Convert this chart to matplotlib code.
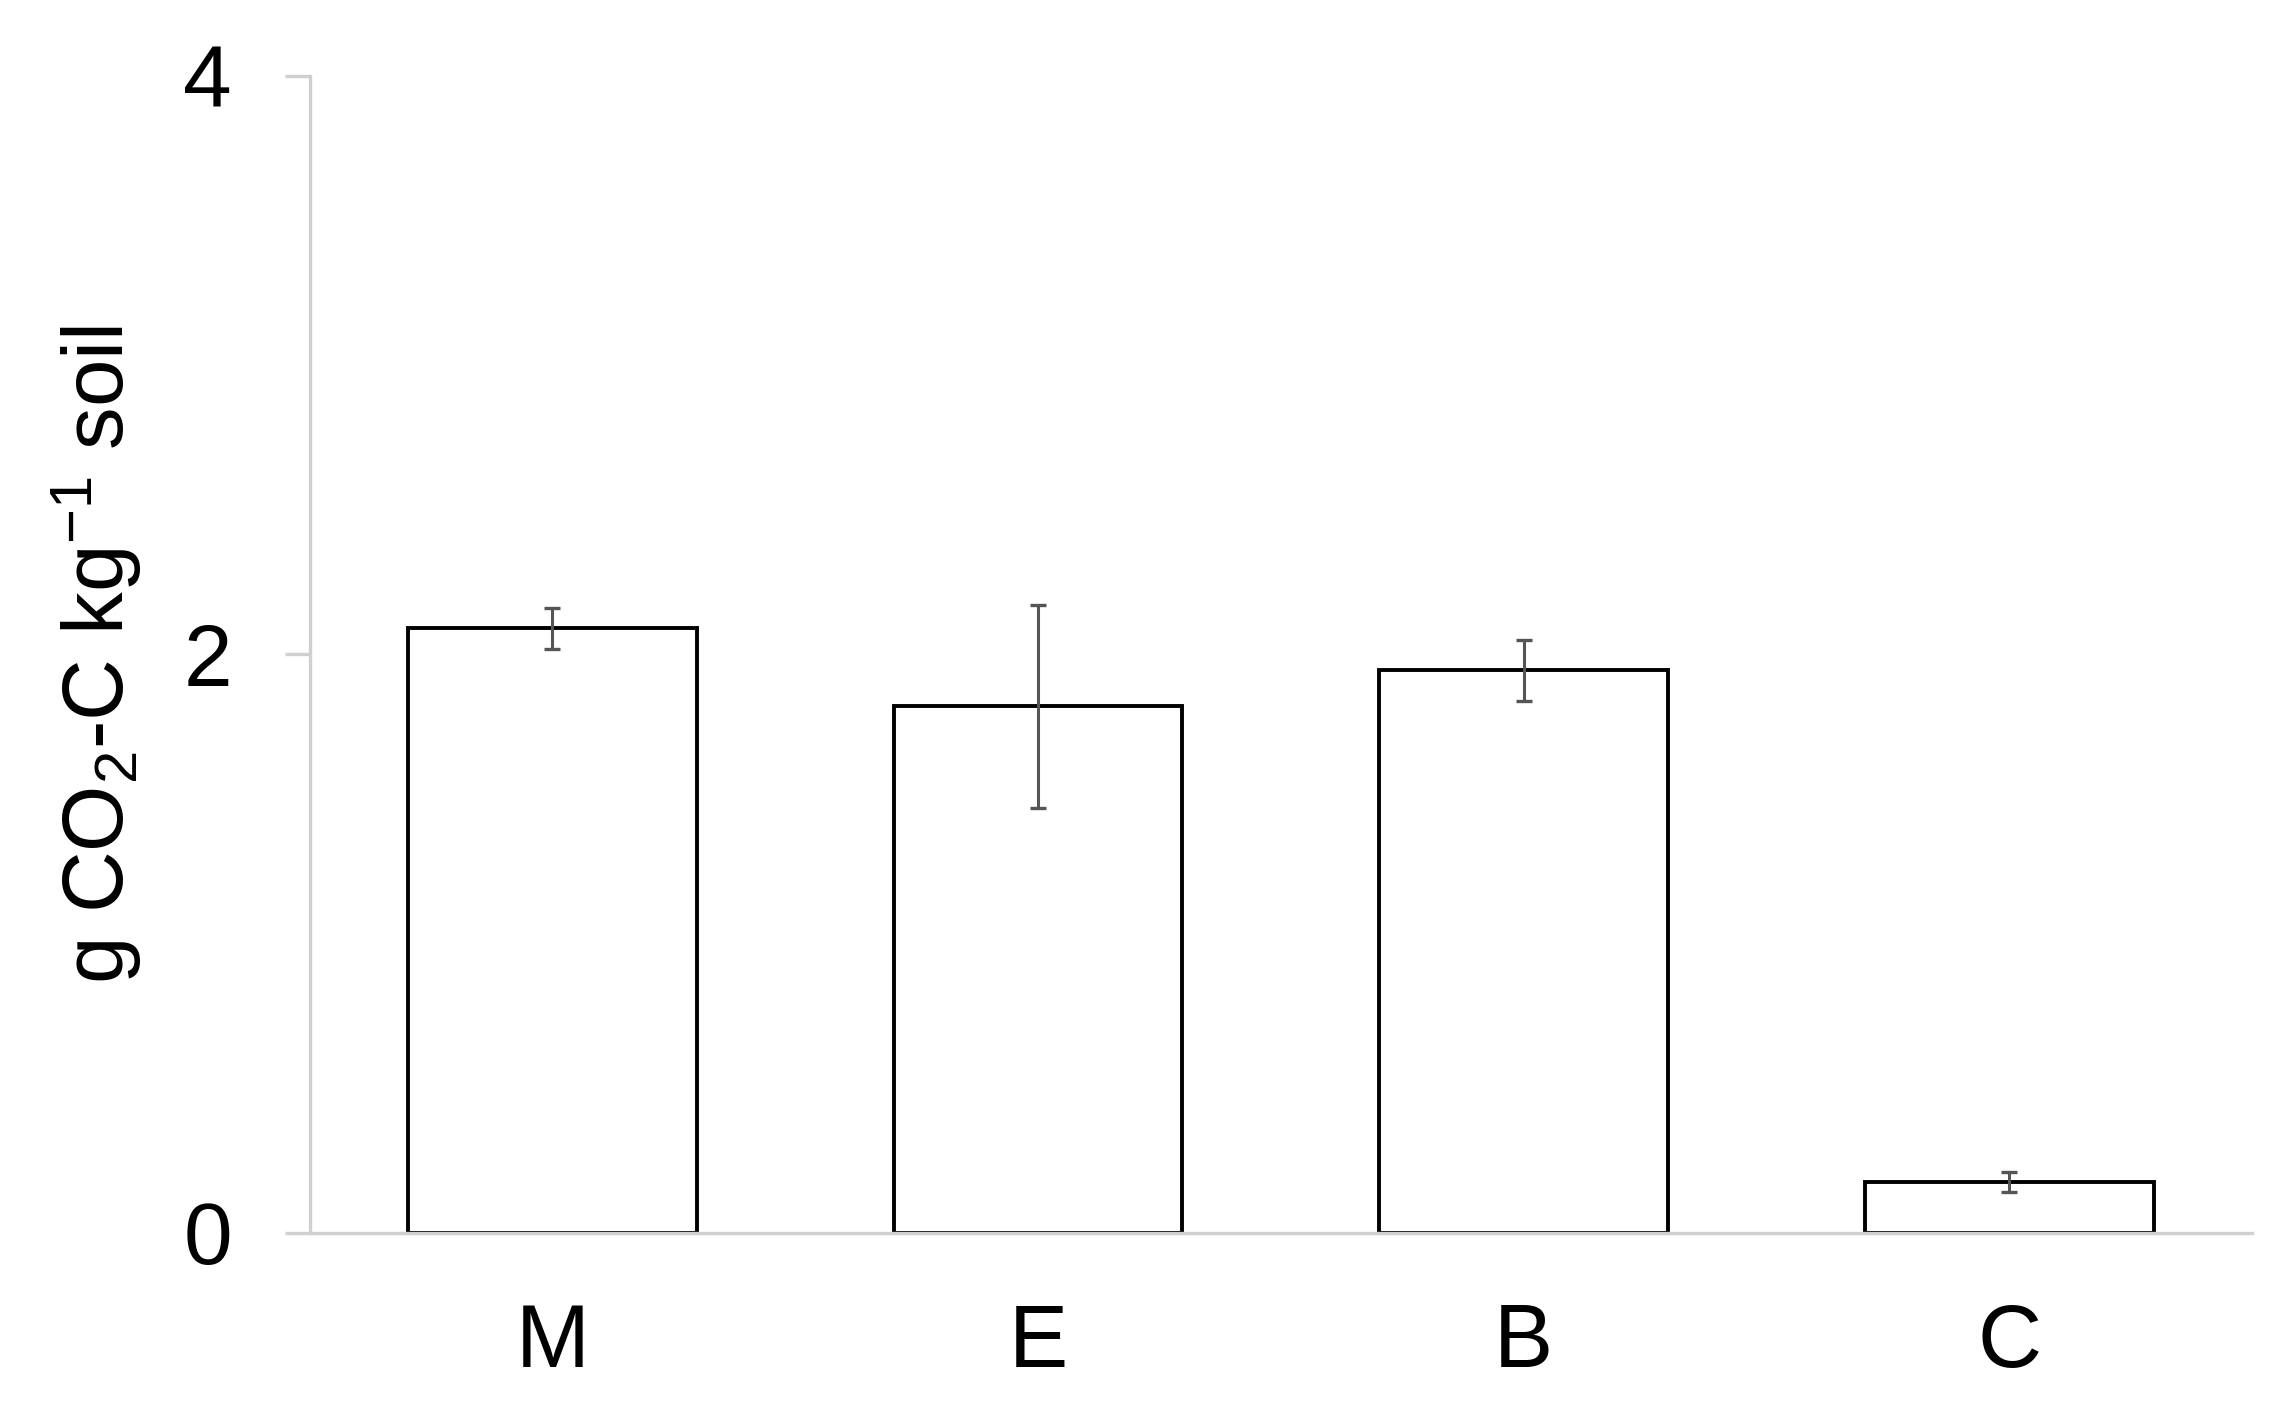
import matplotlib
matplotlib.use("Agg")
import matplotlib.pyplot as plt

categories = ["M", "E", "B", "C"]
values = [2.09, 1.82, 1.945, 0.176]
errors = [0.072, 0.35, 0.105, 0.035]
yticks = [0, 2, 4]

plt.rcParams['font.family'] = ['Liberation Sans', 'DejaVu Sans']
plt.rcParams['mathtext.fontset'] = 'custom'
plt.rcParams['mathtext.rm'] = 'Liberation Sans'
plt.rcParams['mathtext.it'] = 'Liberation Sans'
plt.rcParams['mathtext.default'] = 'regular'

fig = plt.figure(figsize=(22.85, 14.23), dpi=100)
ax = fig.add_axes([0.1355, 0.1336, 0.8500, 0.8131])

x = list(range(len(categories)))
ax.bar(x, values, width=0.595, color='white', edgecolor='black', linewidth=2.8, zorder=2)
ax.errorbar(x, values, yerr=errors, fmt='none', ecolor='#555555', elinewidth=2.2,
            capsize=6, capthick=2.4, zorder=3)

ax.set_xlim(-0.5, 3.5)
ax.set_ylim(0, 4)
ax.set_yticks(yticks)
ax.set_yticklabels([str(t) for t in yticks])
ax.set_xticks(x)
ax.set_xticklabels(categories)

for s in ['top', 'right']:
    ax.spines[s].set_visible(False)
for s in ['left', 'bottom']:
    ax.spines[s].set_color('#d0d0d0')
    ax.spines[s].set_linewidth(2.4)

ax.tick_params(axis='y', length=18, width=2.4, color='#d0d0d0', pad=38, labelsize=63)
ax.tick_params(axis='x', length=0, pad=50, labelsize=64)
ax.set_ylabel('g CO$_2$-C kg$^{\u22121}$ soil', fontsize=61.5, labelpad=28)

fig.savefig('out.png', dpi=100, facecolor='white')
